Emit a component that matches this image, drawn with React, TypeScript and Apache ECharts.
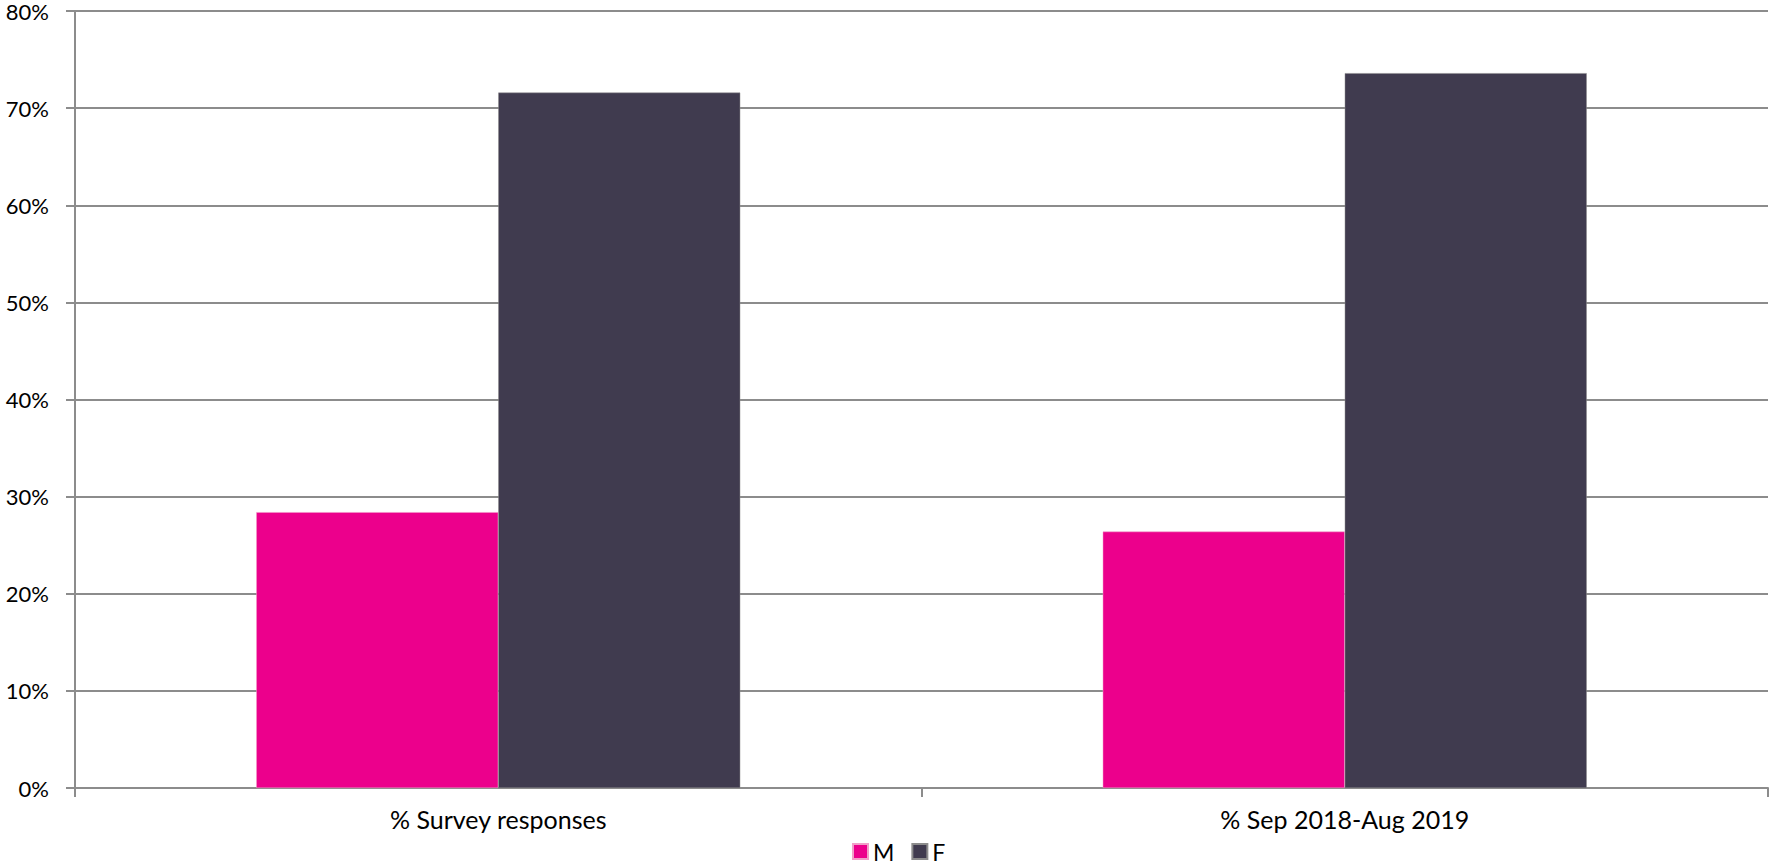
import React, { useEffect, useRef } from "react";
import * as echarts from "echarts";

const categories = ["% Survey responses", "% Sep 2018-Aug 2019"];
const maleValues = [28.4, 26.4];
const femaleValues = [71.6, 73.6];
const yTicks = [0, 10, 20, 30, 40, 50, 60, 70, 80];

export default function App() {
  const ref = useRef<HTMLDivElement>(null);
  useEffect(() => {
    document.body.style.margin = "0";
    if (!ref.current) return;
    const chart = echarts.init(ref.current, undefined, { renderer: "svg" });
    const font = "Lato, 'Open Sans', sans-serif";
    chart.setOption({
      animation: false,
      textStyle: { fontFamily: font },
      grid: { left: 75, right: 1, top: 11, bottom: 74, containLabel: false },
      legend: {
        data: ["M", "F"],
        top: 840,
        left: 852,
        itemWidth: 15,
        itemHeight: 15,
        itemGap: 17,
        icon: "rect",
        padding: 0,
        textStyle: { fontSize: 23, lineHeight: 20, color: "#000", fontFamily: font },
      },
      xAxis: {
        type: "category",
        data: categories,
        axisLine: { lineStyle: { color: "#8c8c8c", width: 2 } },
        axisTick: { show: true, length: 9, lineStyle: { color: "#8c8c8c", width: 2 } },
        axisLabel: { fontSize: 25, color: "#000", margin: 18, fontFamily: font },
      },
      yAxis: {
        type: "value",
        min: yTicks[0],
        max: yTicks[yTicks.length - 1],
        interval: 10,
        axisLine: { show: true, lineStyle: { color: "#8c8c8c", width: 2 } },
        axisTick: { show: true, length: 9, lineStyle: { color: "#8c8c8c", width: 2 } },
        splitLine: { lineStyle: { color: "#8c8c8c", width: 2 } },
        axisLabel: { fontSize: 22, lineHeight: 20, color: "#000", margin: 26, formatter: "{value}%", fontFamily: font },
      },
      series: [
        {
          name: "M",
          type: "bar",
          data: maleValues,
          barWidth: 242,
          barGap: "0%",
          itemStyle: { color: "#EC008C", borderColor: "#f0a0c8", borderWidth: 0.5 },
        },
        {
          name: "F",
          type: "bar",
          data: femaleValues,
          barWidth: 242,
          barGap: "0%",
          itemStyle: { color: "#403B4F", borderColor: "#8c8c8c", borderWidth: 0.5 },
        },
      ],
    });
    return () => chart.dispose();
  }, []);
  return <div ref={ref} style={{ width: 1769, height: 862 }} />;
}
